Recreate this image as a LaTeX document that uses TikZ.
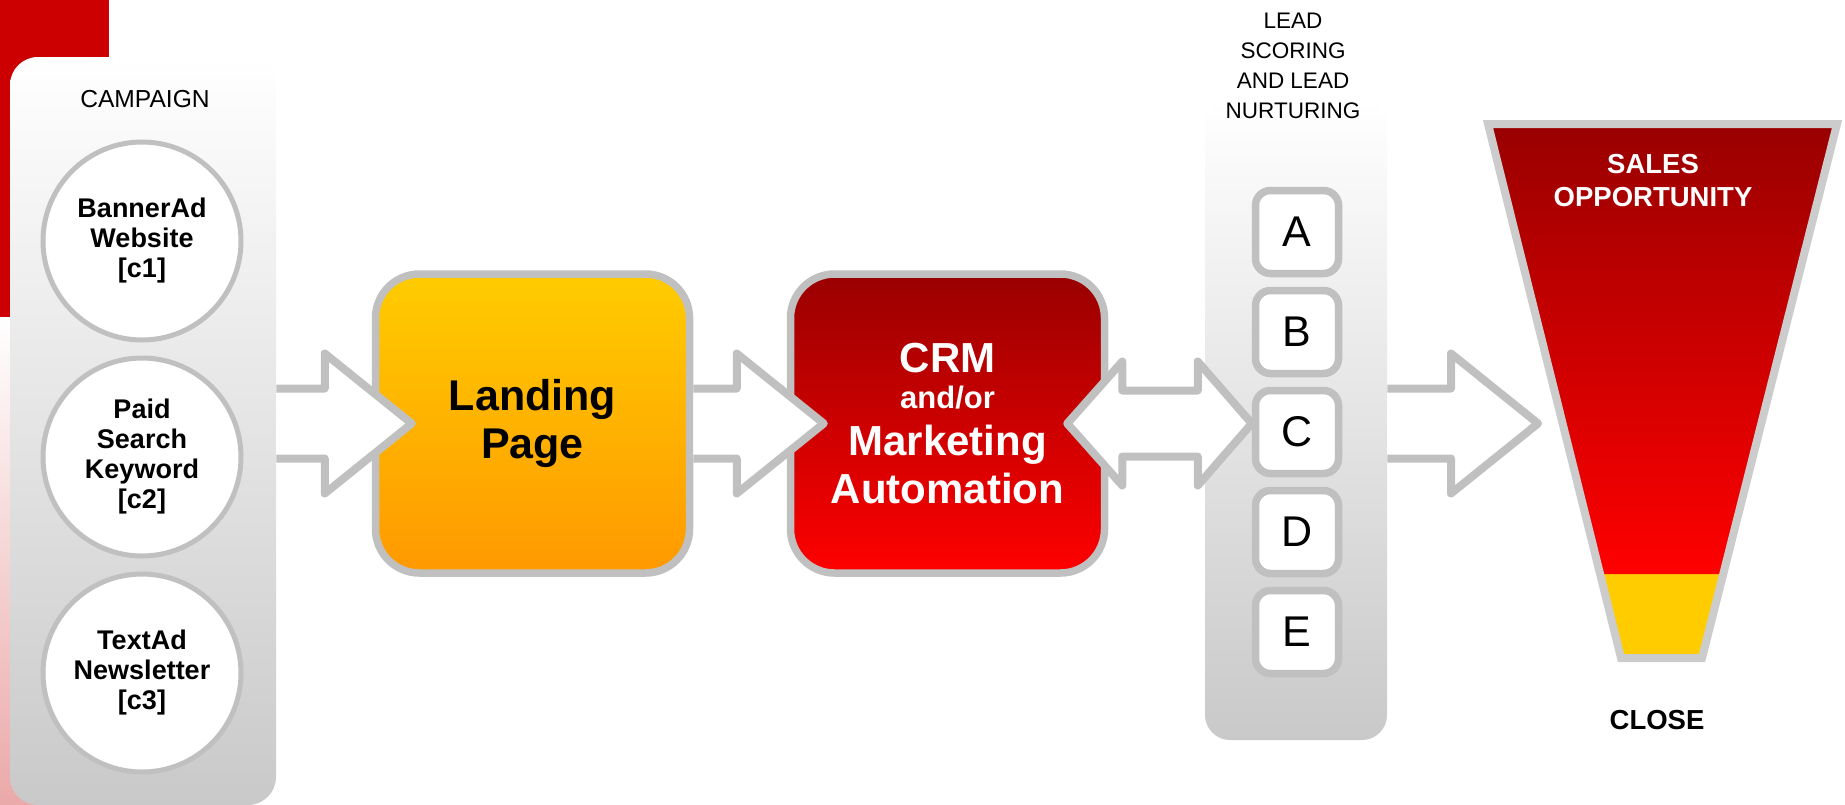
\documentclass[tikz,border=0pt]{standalone}
\usepackage{fontspec}
\setmainfont{Liberation Sans}
\usepackage{tikz}
\usetikzlibrary{calc, positioning, shapes}
\definecolor{arrowgray}{HTML}{C0C0C0}
\definecolor{funnelgray}{HTML}{CCCCCC}
\definecolor{panelgray}{HTML}{C9C9C9}
\definecolor{decored}{HTML}{CC0000}
\definecolor{decopink}{HTML}{EBA9A9}
\definecolor{gold}{HTML}{FFCC00}
\definecolor{amber}{HTML}{FF9900}
\definecolor{darkred}{HTML}{990000}
\definecolor{brightred}{HTML}{FF0000}
\def\headlen{87}
\tikzstyle{panel}=[rectangle, rounded corners=14pt, top color=white, bottom color=panelgray, inner sep=0pt]
\tikzstyle{campaign circle}=[circle, draw=arrowgray, line width=2.5pt, fill=white, minimum size=99pt, inner sep=0pt, align=center, font=\fontsize{13.5}{15}\selectfont\bfseries]
\tikzstyle{flow box}=[rectangle, rounded corners=22pt, draw=arrowgray, line width=3.75pt, minimum width=157pt, minimum height=149.5pt, inner sep=0pt, align=center]
\tikzstyle{lead box}=[rectangle, rounded corners=7.5pt, draw=arrowgray, line width=3.75pt, fill=white, minimum size=41.5pt, inner sep=0pt, font=\fontsize{21.5}{24}\selectfont]
\tikzstyle{caption text}=[align=center, inner sep=0pt]
\tikzstyle{crm text}=[anchor=base, inner sep=0pt, text=white, font=\bfseries]
\tikzstyle{block arrow}=[draw=arrowgray, fill=white, line width=4pt, line join=round]
% single block arrow: #1 = start of shaft, #2 = tip
\newcommand{\flowarrow}[2]{%
  \draw[block arrow] ($(#1)+(0,-35)$) -- ($(#2)+(-\headlen,-35)$) -- ($(#2)+(-\headlen,-70)$) -- (#2)
    -- ($(#2)+(-\headlen,70)$) -- ($(#2)+(-\headlen,35)$) -- ($(#1)+(0,35)$);}

\begin{document}
\begin{tikzpicture}[x=0.5pt, y=-0.5pt]
	\useasboundingbox (0,0) rectangle (1845,804);
	% corner decoration
	\fill[decored] (0,0) rectangle (109,317);
	\shade[top color=white, bottom color=decopink] (0,317) rectangle (109,804);

	% campaign column
	\node[panel, minimum width=133pt, minimum height=374pt] (camp) at (143,431) {};
	\node[caption text, font=\fontsize{12.3}{15}\selectfont] (camp-title) at (145,99) {CAMPAIGN};
	\node[campaign circle] (C-1) at (142,241) {BannerAd\\Website\\{[c1]}};
	\node[campaign circle] (C-2) at (142,457) {Paid\\Search\\Keyword\\{[c2]}};
	\node[campaign circle] (C-3) at (142,673) {TextAd\\Newsletter\\{[c3]}};

	% landing page and crm
	\node[flow box, top color=gold, bottom color=amber, font=\fontsize{21.5}{24}\selectfont\bfseries] (land) at (532.5,423.5) {Landing\\Page};
	\node[flow box, top color=darkred, bottom color=brightred] (crm) at (947.5,423.5) {};
	\node[crm text, font=\fontsize{21}{24}\selectfont\bfseries] at ($(crm.center)+(0,-51.5)$) {CRM};
	\node[crm text, font=\fontsize{15.5}{18}\selectfont\bfseries] at ($(crm.center)+(0,-15.5)$) {and/or};
	\node[crm text, font=\fontsize{21}{24}\selectfont\bfseries] at ($(crm.center)+(0,31.5)$) {Marketing};
	\node[crm text, font=\fontsize{21}{24}\selectfont\bfseries] at ($(crm.center)+(0,79.5)$) {Automation};

	% lead scoring column
	\node[panel, rounded corners=12.5pt, minimum width=91pt, minimum height=320pt] (leads) at (1296,420) {};
	\node[caption text, font=\fontsize{11.25}{15}\selectfont] (leads-title) at (1293,66) {LEAD\\SCORING\\AND LEAD\\NURTURING};
	\foreach \letter [count=\i] in {A,B,C,D,E}
		\node[lead box] (L-\letter) at (1297,132+100*\i) {\letter};

	% funnel
	\coordinate (F-tl) at (1488,124);
	\coordinate (F-tr) at (1837,124);
	\coordinate (F-br) at (1702,658);
	\coordinate (F-bl) at (1621,658);
	\coordinate (F-cl) at (1600,574);
	\coordinate (F-cr) at (1723,574);
	\fill[gold] (F-cl) -- (F-cr) -- (F-br) -- (F-bl) -- cycle;
	\shade[top color=darkred, bottom color=brightred] (F-tl) -- (F-tr) -- (F-cr) -- (F-cl) -- cycle;
	\draw[funnelgray, line width=4pt] (F-tl) -- (F-tr) -- (F-br) -- (F-bl) -- cycle;
	\node[caption text, text=white, font=\fontsize{13.75}{16.5}\selectfont\bfseries] (sales) at (1653,181) {SALES\\OPPORTUNITY};
	\node[caption text, font=\fontsize{13.75}{16}\selectfont\bfseries] (close) at (1657,720) {CLOSE};

	% arrows
	\coordinate (a1-s) at (camp.east |- land.west);
	\coordinate (a1-t) at ($(land.west)+(40,0)$);
	\coordinate (a2-t) at ($(crm.west)+(37,0)$);
	\coordinate (d-l) at ($(crm.east)+(-41,0)$);
	\coordinate (d-r) at (L-C.west |- crm.east);
	\coordinate (a4-s) at (leads.east |- crm.east);
	\coordinate (a4-t) at (1538,423.5);
	\flowarrow{a1-s}{a1-t}
	\flowarrow{land.east}{a2-t}
	\flowarrow{a4-s}{a4-t}
	\draw[block arrow] (d-l) -- ($(d-l)+(55,-62)$) -- ($(d-l)+(55,-33)$) -- ($(d-r)+(-54,-33)$)
		-- ($(d-r)+(-54,-62)$) -- (d-r) -- ($(d-r)+(-54,62)$) -- ($(d-r)+(-54,33)$)
		-- ($(d-l)+(55,33)$) -- ($(d-l)+(55,62)$) -- cycle;
\end{tikzpicture}
\end{document}
